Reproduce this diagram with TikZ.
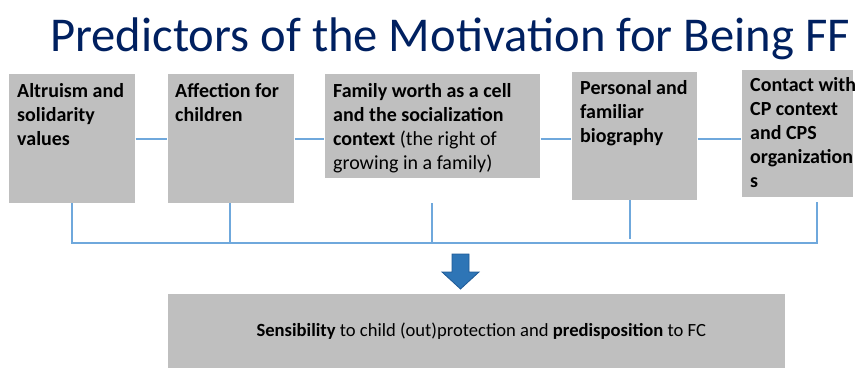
\documentclass[tikz,border=0pt]{standalone}
\usepackage{fontspec}
\setmainfont{Carlito}
\definecolor{titleblue}{HTML}{002060}
\definecolor{boxgray}{HTML}{BFBFBF}
\definecolor{linkblue}{HTML}{6FA8DC}
\definecolor{arrowfill}{HTML}{2E75B6}
\definecolor{arrowedge}{HTML}{1F5A96}
\begin{document}
\begin{tikzpicture}[x=1pt,y=-1pt,
  graybox/.style={fill=boxgray,draw=white,line width=0.6pt,anchor=north west,inner sep=0pt},
  boxtext/.style={anchor=north west,inner sep=0pt,align=left,font=\fontsize{20}{24}\selectfont},
  link/.style={draw=linkblue,line width=1.1pt}]
\useasboundingbox (0,0) rectangle (859,369);
% title
\node[anchor=base west,inner sep=0pt,text=titleblue,font=\fontsize{48.6}{50}\selectfont] (title) at (50,52) {Predictors of the Motivation for Being FF};
% coordinates for connector rows
\coordinate (hl) at (0,139);
\coordinate (br) at (0,243);
% boxes
\node[graybox,minimum width=127pt,minimum height=130pt] (b1) at (8,73) {};
\node[graybox,minimum width=127pt,minimum height=130pt] (b2) at (167,73) {};
\node[graybox,minimum width=216pt,minimum height=105pt] (b3) at (324,73) {};
\node[graybox,minimum width=126pt,minimum height=129pt] (b4) at (571,71) {};
\node[graybox,minimum width=112pt,minimum height=128pt] (b5) at (741,69) {};
% texts
\node[boxtext] (t1) at (17,83) {\textbf{Altruism and}\\\textbf{solidarity}\\\textbf{values}};
\node[boxtext] (t2) at (175,83) {\textbf{Affection for}\\\textbf{children}};
\node[boxtext] (t3) at (333,83) {\textbf{Family worth as a cell}\\\textbf{and the socialization}\\\textbf{context} (the right of\\growing in a family)};
\node[boxtext] (t4) at (580,80) {\textbf{Personal and}\\\textbf{familiar}\\\textbf{biography}};
\node[boxtext] (t5) at (750,77) {\textbf{Contact with}\\\textbf{CP context}\\\textbf{and CPS}\\\textbf{organization}\\\textbf{s}};
% horizontal links
\draw[link] (b1.east |- hl) -- (b2.west |- hl);
\draw[link] (b2.east |- hl) -- (b3.west |- hl);
\draw[link] (b3.east |- hl) -- (b4.west |- hl);
\draw[link] (b4.east |- hl) -- (b5.west |- hl);
% vertical drops and bracket
\coordinate (d1) at (72,203);
\coordinate (d2) at (230,203);
\coordinate (d3) at (432,203);
\coordinate (d4) at (630,200);
\coordinate (d4e) at (630,239);
\coordinate (d5) at (817,202);
\draw[link] (d1) -- (d1 |- br) -- (d5 |- br) -- (d5);
\draw[link] (d2) -- (d2 |- br);
\draw[link] (d3) -- (d3 |- br);
\draw[link] (d4) -- (d4e);
% down arrow
\filldraw[fill=arrowfill,draw=arrowedge,line width=0.8pt,line join=miter]
  (452,254) -- (469,254) -- (469,272) -- (479,272) -- (460.5,289) -- (442,272) -- (452,272) -- cycle;
% result box
\node[graybox,minimum width=618pt,minimum height=75pt] (res) at (167,293) {};
\node[inner sep=0pt,font=\fontsize{18.6}{23}\selectfont] (rt) at ([xshift=5pt]res.center) {\textbf{Sensibility} to child (out)protection and \textbf{predisposition} to FC};
\end{tikzpicture}
\end{document}
